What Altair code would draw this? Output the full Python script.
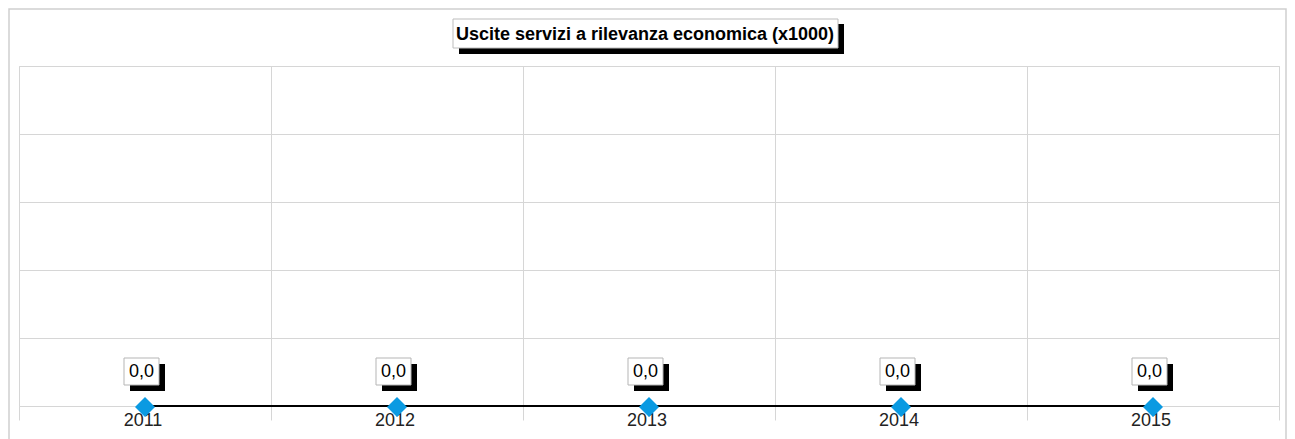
import altair as alt
import pandas as pd

years = [2011, 2012, 2013, 2014, 2015]
values = [0.0, 0.0, 0.0, 0.0, 0.0]
title_text = "Uscite servizi a rilevanza economica (x1000)"
x_grid_values = [2010.5, 2011.5, 2012.5, 2013.5, 2014.5, 2015.5]
y_grid_values = [0, 1, 2, 3, 4, 5]

df = pd.DataFrame({"year": years, "value": values})

W, H = 1260, 340
GRID = "#d6d6d6"
FONT = "Liberation Sans"

x_enc = alt.X(
    "year:Q",
    scale=alt.Scale(domain=[2010.5, 2015.5], nice=False, zero=False),
    axis=alt.Axis(
        values=x_grid_values, grid=True, gridColor=GRID, labels=False,
        ticks=True, tickColor=GRID, tickSize=14, domain=False, title=None,
    ),
)
y_enc = alt.Y(
    "value:Q",
    scale=alt.Scale(domain=[0, 5], nice=False),
    axis=alt.Axis(
        values=y_grid_values, grid=True, gridColor=GRID, labels=False,
        ticks=False, domain=False, title=None,
    ),
)

base = alt.Chart(df).encode(x=x_enc, y=y_enc)
one = alt.Chart(alt.Data(values=[{"t": title_text}]))

border = one.mark_rect(fill=None, stroke="#cfcfcf", strokeWidth=1.5).encode(
    x=alt.value(-10), x2=alt.value(W + 7), y=alt.value(-57), y2=alt.value(H + 60)
)
title_shadow = one.mark_rect(fill="black").encode(
    x=alt.value(440), x2=alt.value(825), y=alt.value(-42), y2=alt.value(-12)
)
title_box = one.mark_rect(fill="white", stroke="#bdbdbd", strokeWidth=1).encode(
    x=alt.value(434), x2=alt.value(819), y=alt.value(-47), y2=alt.value(-18)
)
title = one.mark_text(font=FONT, fontSize=18, fontWeight="bold", color="black",
                      baseline="middle", align="center").encode(
    x=alt.value(626), y=alt.value(-31), text="t:N"
)

line = base.mark_line(color="black", strokeWidth=2)
year_text = base.mark_text(font=FONT, fontSize=18, color="#222222",
                           baseline="middle", yOffset=15, xOffset=-2).encode(
    text=alt.Text("year:O")
)
diamonds = base.mark_point(shape="diamond", filled=True, size=400,
                           color="#0a9ae2", opacity=1, yOffset=1)

box_shape = "M-1,-0.7714L1,-0.7714L1,0.7714L-1,0.7714Z"
lab_shadow = base.mark_point(shape=box_shape, filled=True, size=1225,
                             color="black", opacity=1, xOffset=2.5, yOffset=-28.5)
lab_box = base.mark_point(shape=box_shape, filled=True, size=1225, fill="white",
                          stroke="#b5b5b5", strokeWidth=1, opacity=1,
                          xOffset=-3.5, yOffset=-34.5)
lab_text = base.transform_calculate(
    lab="replace(format(datum.value, '.1f'), '.', ',')"
).mark_text(font=FONT, fontSize=18, color="black", baseline="middle",
            xOffset=-3.5, yOffset=-34).encode(text="lab:N")

chart = alt.layer(
    border, title_shadow, title_box, title,
    line, year_text, diamonds, lab_shadow, lab_box, lab_text,
).properties(
    width=W, height=H,
    autosize=alt.AutoSizeParams(type="none"),
    padding={"left": 11, "top": 58, "right": 8, "bottom": 33},
    background="white",
).configure_view(stroke=GRID)

chart.save("out.html", embed_options={"renderer": "svg", "actions": False})
